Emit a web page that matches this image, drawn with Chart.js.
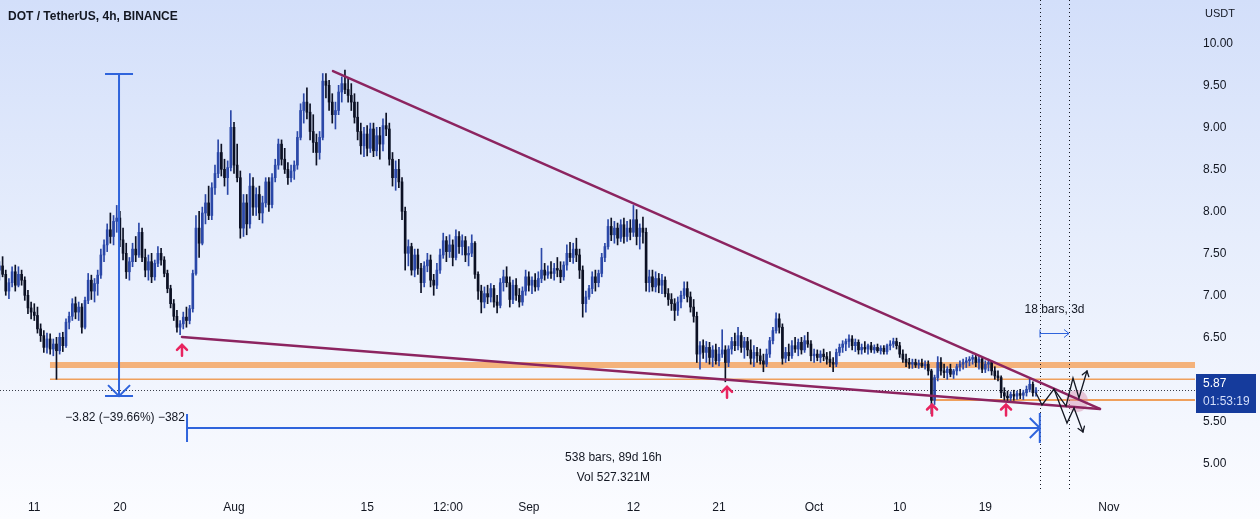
<!DOCTYPE html>
<html>
<head>
<meta charset="utf-8">
<script src="https://cdn.jsdelivr.net/npm/chart.js@4/dist/chart.umd.min.js"></script>
<style>
html,body{margin:0;padding:0;}
#wrap{position:relative;width:1260px;height:519px;background:linear-gradient(to bottom,#d3dffa 0%,#e6edfc 45%,#fbfcff 100%);}
canvas{display:block;}
</style>
</head>
<body>
<div id="wrap"><canvas id="c" width="1260" height="519"></canvas></div>
<script>
// ---- data: DOT/USDT, 8h bars (first bar Jul 7 08:00, day 0 = Aug 1) ----
const firstBarDay = -24.667;
const barSpan = 1/3;
const opens = [
7.30,7.35,7.25,7.05,7.15,7.28,7.12,7.25,7.18,7.00,
6.85,6.80,6.76,6.60,6.52,6.38,6.48,6.36,6.42,6.34,
6.50,6.40,6.68,6.75,6.90,6.80,6.86,6.62,6.94,7.18,
7.05,7.14,7.24,7.48,7.60,7.78,7.70,7.88,7.92,7.66,
7.50,7.28,7.40,7.55,7.48,7.75,7.45,7.30,7.40,7.22,
7.38,7.50,7.42,7.26,7.08,6.90,6.75,6.62,6.66,6.74,
6.70,6.84,7.26,7.80,7.62,7.98,8.10,7.95,8.28,8.45,
8.70,8.50,8.40,8.52,9.00,8.55,8.40,7.80,8.10,7.85,
8.30,8.05,8.20,7.98,8.10,8.35,8.08,8.40,8.55,8.80,
8.62,8.50,8.40,8.48,8.55,8.88,9.20,9.30,9.18,8.95,
8.82,8.70,8.88,9.55,9.50,9.30,9.15,9.20,9.42,9.52,
9.45,9.38,9.30,9.12,8.95,8.78,8.92,8.75,8.98,8.72,
8.90,8.80,9.02,8.98,8.62,8.40,8.50,8.35,8.00,7.50,
7.58,7.30,7.48,7.32,7.15,7.35,7.42,7.18,7.12,7.30,
7.48,7.65,7.52,7.60,7.45,7.70,7.58,7.65,7.48,7.50,
7.62,7.25,7.05,6.92,7.02,6.98,7.08,6.92,6.88,7.15,
7.22,7.15,6.95,7.12,7.00,6.92,7.05,7.22,7.12,7.18,
7.10,7.20,7.30,7.24,7.28,7.26,7.32,7.30,7.22,7.36,
7.50,7.45,7.55,7.48,7.30,6.90,6.98,7.08,7.22,7.15,
7.26,7.45,7.58,7.82,7.72,7.80,7.68,7.84,7.70,7.80,
7.75,7.90,7.70,7.80,7.75,7.15,7.22,7.10,7.20,7.12,
7.18,7.02,6.95,6.90,6.82,6.92,7.00,7.08,6.98,6.86,
6.75,6.30,6.40,6.32,6.38,6.26,6.35,6.22,6.30,6.35,
6.20,6.36,6.45,6.40,6.52,6.38,6.45,6.35,6.25,6.32,
6.28,6.22,6.18,6.30,6.46,6.58,6.72,6.62,6.25,6.32,
6.28,6.40,6.36,6.44,6.35,6.46,6.42,6.28,6.30,6.26,
6.30,6.27,6.24,6.20,6.18,6.32,6.38,6.42,6.45,6.48,
6.40,6.44,6.35,6.38,6.36,6.40,6.35,6.38,6.34,6.37,
6.33,6.40,6.42,6.45,6.40,6.30,6.24,6.20,6.18,6.20,
6.17,6.19,6.16,6.18,6.10,5.75,6.02,6.20,6.10,6.08,
6.12,6.06,6.10,6.15,6.18,6.20,6.22,6.24,6.26,6.20,
6.24,6.12,6.18,6.20,6.10,6.04,6.02,5.84,5.80,5.78,
5.82,5.80,5.83,5.81,5.84,5.88,5.94,5.84];
const highs = [
7.40,7.46,7.30,7.20,7.34,7.36,7.34,7.30,7.22,7.06,
6.92,6.90,6.86,6.66,6.58,6.55,6.54,6.48,6.50,6.55,
6.56,6.72,6.80,6.96,6.98,6.92,6.90,6.98,7.26,7.24,
7.20,7.30,7.55,7.66,7.85,7.98,7.95,8.07,8.00,7.80,
7.62,7.45,7.62,7.70,7.86,7.80,7.55,7.48,7.50,7.42,
7.58,7.56,7.46,7.30,7.12,6.95,6.82,6.70,6.80,6.86,
6.88,7.30,7.95,8.00,8.05,8.20,8.30,8.34,8.55,8.85,
8.80,8.62,8.60,9.20,9.06,8.80,8.48,8.20,8.20,8.45,
8.40,8.28,8.30,8.18,8.40,8.40,8.45,8.62,8.86,8.85,
8.75,8.58,8.55,8.60,8.95,9.28,9.40,9.47,9.28,9.15,
8.92,8.95,9.64,9.64,9.56,9.40,9.30,9.50,9.60,9.68,
9.58,9.52,9.40,9.30,9.05,9.00,9.02,9.05,9.05,9.00,
9.00,9.10,9.17,9.05,8.70,8.60,8.62,8.40,8.05,7.66,
7.62,7.55,7.55,7.38,7.40,7.50,7.48,7.25,7.38,7.55,
7.74,7.70,7.72,7.66,7.78,7.76,7.72,7.70,7.58,7.72,
7.64,7.28,7.12,7.10,7.12,7.14,7.12,7.00,7.20,7.30,
7.34,7.22,7.18,7.20,7.08,7.10,7.30,7.28,7.22,7.26,
7.28,7.56,7.38,7.35,7.40,7.38,7.45,7.40,7.40,7.60,
7.63,7.62,7.68,7.55,7.35,7.05,7.12,7.28,7.30,7.30,
7.50,7.62,7.90,7.92,7.88,7.86,7.90,7.92,7.88,7.90,
8.07,8.02,7.85,7.93,7.80,7.30,7.30,7.28,7.26,7.25,
7.22,7.08,7.02,6.96,6.98,7.05,7.16,7.16,7.04,6.95,
6.80,6.45,6.47,6.45,6.44,6.40,6.42,6.38,6.59,6.40,
6.40,6.50,6.55,6.62,6.56,6.50,6.50,6.47,6.40,6.38,
6.36,6.30,6.36,6.50,6.62,6.79,6.78,6.66,6.38,6.42,
6.46,6.50,6.48,6.50,6.52,6.56,6.46,6.36,6.35,6.34,
6.36,6.32,6.33,6.26,6.36,6.42,6.46,6.48,6.53,6.52,
6.48,6.47,6.42,6.45,6.42,6.44,6.41,6.42,6.40,6.40,
6.42,6.46,6.49,6.49,6.44,6.35,6.30,6.25,6.24,6.24,
6.23,6.24,6.22,6.22,6.12,6.05,6.27,6.26,6.18,6.15,
6.18,6.12,6.18,6.22,6.24,6.26,6.27,6.29,6.29,6.28,
6.27,6.22,6.24,6.22,6.15,6.10,6.04,5.90,5.86,5.85,
5.87,5.86,5.88,5.87,5.92,6.00,5.97,5.90];
const lows = [
7.18,7.22,7.00,6.96,7.10,7.05,7.10,7.12,6.94,6.78,
6.72,6.70,6.55,6.45,6.32,6.31,6.30,6.28,6.00,6.30,
6.33,6.38,6.60,6.70,6.72,6.70,6.55,6.60,6.90,6.95,
6.92,7.00,7.20,7.40,7.52,7.62,7.60,7.75,7.58,7.42,
7.20,7.18,7.34,7.40,7.45,7.40,7.22,7.18,7.15,7.18,
7.34,7.36,7.22,7.03,6.85,6.70,6.56,6.53,6.60,6.62,
6.66,6.80,7.24,7.45,7.60,7.85,7.90,7.90,8.20,8.40,
8.42,8.30,8.20,8.48,8.45,8.35,7.68,7.70,7.72,7.80,
7.95,7.95,7.90,7.86,8.05,8.00,8.04,8.35,8.50,8.55,
8.45,8.32,8.35,8.38,8.50,8.85,9.05,9.10,8.85,8.70,
8.55,8.62,8.85,9.35,9.20,9.05,8.98,9.15,9.30,9.40,
9.30,9.20,9.05,8.85,8.68,8.65,8.66,8.70,8.65,8.66,
8.62,8.72,8.90,8.55,8.30,8.25,8.28,7.90,7.30,7.35,
7.24,7.22,7.25,7.03,7.10,7.28,7.10,7.00,7.08,7.26,
7.44,7.40,7.45,7.35,7.42,7.50,7.48,7.40,7.35,7.46,
7.20,6.95,6.79,6.85,6.90,6.92,6.86,6.79,6.85,7.05,
7.10,6.86,6.90,6.94,6.86,6.88,7.00,7.05,7.02,7.05,
7.06,7.15,7.18,7.20,7.20,7.18,7.22,7.15,7.18,7.30,
7.40,7.38,7.40,7.20,6.74,6.80,6.95,7.02,7.05,7.10,
7.22,7.40,7.55,7.65,7.62,7.60,7.64,7.62,7.64,7.66,
7.70,7.60,7.55,7.62,7.05,7.04,7.05,7.04,7.03,7.02,
6.98,6.88,6.82,6.70,6.76,6.85,6.96,6.92,6.80,6.68,
6.20,6.12,6.25,6.20,6.18,6.15,6.18,6.16,6.26,5.97,
6.15,6.30,6.34,6.35,6.32,6.25,6.28,6.18,6.15,6.20,
6.18,6.09,6.15,6.26,6.42,6.55,6.55,6.18,6.20,6.22,
6.25,6.32,6.28,6.30,6.32,6.38,6.22,6.20,6.22,6.20,
6.22,6.18,6.15,6.09,6.15,6.28,6.32,6.34,6.38,6.35,
6.33,6.30,6.30,6.32,6.30,6.32,6.31,6.32,6.30,6.30,
6.30,6.35,6.38,6.36,6.26,6.20,6.15,6.13,6.13,6.14,
6.13,6.14,6.12,6.05,5.59,5.70,5.98,6.05,6.02,6.00,
6.03,6.01,6.05,6.10,6.12,6.14,6.16,6.18,6.15,6.12,
6.08,6.08,6.10,6.05,6.00,5.98,5.78,5.74,5.73,5.74,
5.75,5.76,5.77,5.76,5.80,5.85,5.80,5.80];
const closes = [
7.35,7.25,7.05,7.15,7.28,7.12,7.25,7.18,7.00,6.85,
6.80,6.76,6.60,6.52,6.38,6.48,6.36,6.42,6.34,6.50,
6.40,6.68,6.75,6.90,6.80,6.86,6.62,6.94,7.18,7.05,
7.14,7.24,7.48,7.60,7.78,7.70,7.88,7.92,7.66,7.50,
7.28,7.40,7.55,7.48,7.75,7.45,7.30,7.40,7.22,7.38,
7.50,7.42,7.26,7.08,6.90,6.75,6.62,6.66,6.74,6.70,
6.84,7.26,7.80,7.62,7.98,8.10,7.95,8.28,8.45,8.70,
8.50,8.40,8.52,9.00,8.55,8.40,7.80,8.10,7.85,8.30,
8.05,8.20,7.98,8.10,8.35,8.08,8.40,8.55,8.80,8.62,
8.50,8.40,8.48,8.55,8.88,9.20,9.30,9.18,8.95,8.82,
8.70,8.88,9.55,9.50,9.30,9.15,9.20,9.42,9.52,9.45,
9.38,9.30,9.12,8.95,8.78,8.92,8.75,8.98,8.72,8.90,
8.80,9.02,8.98,8.62,8.40,8.50,8.35,8.00,7.50,7.58,
7.30,7.48,7.32,7.15,7.35,7.42,7.18,7.12,7.30,7.48,
7.65,7.52,7.60,7.45,7.70,7.58,7.65,7.48,7.50,7.62,
7.25,7.05,6.92,7.02,6.98,7.08,6.92,6.88,7.15,7.22,
7.15,6.95,7.12,7.00,6.92,7.05,7.22,7.12,7.18,7.10,
7.20,7.30,7.24,7.28,7.26,7.32,7.30,7.22,7.36,7.50,
7.45,7.55,7.48,7.30,6.90,6.98,7.08,7.22,7.15,7.26,
7.45,7.58,7.82,7.72,7.80,7.68,7.84,7.70,7.80,7.75,
7.90,7.70,7.80,7.75,7.15,7.22,7.10,7.20,7.12,7.18,
7.02,6.95,6.90,6.82,6.92,7.00,7.08,6.98,6.86,6.75,
6.30,6.40,6.32,6.38,6.26,6.35,6.22,6.30,6.35,6.20,
6.36,6.45,6.40,6.52,6.38,6.45,6.35,6.25,6.32,6.28,
6.22,6.18,6.30,6.46,6.58,6.72,6.62,6.25,6.32,6.28,
6.40,6.36,6.44,6.35,6.46,6.42,6.28,6.30,6.26,6.30,
6.27,6.24,6.20,6.18,6.32,6.38,6.42,6.45,6.48,6.40,
6.44,6.35,6.38,6.36,6.40,6.35,6.38,6.34,6.37,6.33,
6.40,6.42,6.45,6.40,6.30,6.24,6.20,6.18,6.20,6.17,
6.19,6.16,6.18,6.10,5.75,6.02,6.20,6.10,6.08,6.12,
6.06,6.10,6.15,6.18,6.20,6.22,6.24,6.26,6.20,6.24,
6.12,6.18,6.20,6.10,6.04,6.02,5.84,5.80,5.78,5.82,
5.80,5.83,5.81,5.84,5.88,5.94,5.84,5.87];

// time-axis ticks (days from Aug 1) and labels
const timeTicks  = [-21, -12, 0, 14, 22.5, 31, 42, 51, 61, 70, 79, 92];
const timeLabels = ['11','20','Aug','15','12:00','Sep','12','21','Oct','10','19','Nov'];
// price-axis ticks
const priceTicks = [5.0,5.5,6.0,6.5,7.0,7.5,8.0,8.5,9.0,9.5,10.0];

// drawings (time in days from Aug 1, price in USDT)
const hLevelBand = 6.17, hLevel1 = 6.00, hLevel2 = 5.754, levelsFrom = -19.35, level2From = 73.4;
const upperTrend = [[10.41, 9.67],[91.06, 5.647]];
const lowerTrend = [[-5.47, 6.504],[91.06, 5.647]];
const priceRange = {day:-12.09, from:9.635, to:5.80, label:'\u22123.82 (\u221239.66%) \u2212382'};
const dateRange  = {from:-4.94, to:84.73, price:5.42, label1:'538 bars, 89d 16h', label2:'Vol 527.321M'};
const smallRange = {from:84.75, to:87.8, price:6.55, label:'18 bars, 3d'};
const markerUps  = [[-5.47,6.41],[51.84,5.91],[73.40,5.70],[81.18,5.70]];
const vLines     = [84.75, 87.8];
const zigUp   = [[84.33,5.837],[84.96,5.694],[86.22,5.884],[87.49,5.682],[88.22,6.015],[88.85,5.777],[89.69,6.099]];
const zigDown = [[86.22,5.884],[87.59,5.480],[88.33,5.659],[89.27,5.373]];
const targetCircle = [88.64, 5.742];
const lastPrice = closes[closes.length-1];
const countdown = '01:53:19';

const FONT = "'Liberation Sans', Arial, sans-serif";
const upColor = '#2b48a8', downColor = '#0c1124';
const barDay = i => firstBarDay + i*barSpan;
const wickData = highs.map((h,i)=>({x:barDay(i), y:[lows[i], h]}));
const bodyData = opens.map((o,i)=>({x:barDay(i), y:[Math.min(o,closes[i]), Math.max(o,closes[i])]}));
const colorOf = i => closes[i] >= opens[i] ? upColor : downColor;

const annot = {
  id:'annot',
  beforeDatasetsDraw(chart){
    const {ctx, chartArea:a, scales:{x, y}} = chart;
    ctx.save();
    ctx.beginPath(); ctx.rect(a.left, a.top, a.right-a.left, a.bottom-a.top); ctx.clip();
    // orange levels
    ctx.strokeStyle = 'rgba(245,166,100,0.85)'; ctx.lineWidth = 6;
    ctx.beginPath(); ctx.moveTo(x.getPixelForValue(levelsFrom), y.getPixelForValue(hLevelBand)); ctx.lineTo(a.right, y.getPixelForValue(hLevelBand)); ctx.stroke();
    ctx.strokeStyle = '#efa05c'; ctx.lineWidth = 1.5;
    ctx.beginPath(); ctx.moveTo(x.getPixelForValue(levelsFrom), y.getPixelForValue(hLevel1)); ctx.lineTo(a.right, y.getPixelForValue(hLevel1)); ctx.stroke();
    ctx.lineWidth = 2;
    ctx.beginPath(); ctx.moveTo(x.getPixelForValue(level2From), y.getPixelForValue(hLevel2)); ctx.lineTo(a.right, y.getPixelForValue(hLevel2)); ctx.stroke();
    // last price dotted
    ctx.strokeStyle = '#3a3e4a'; ctx.lineWidth = 1; ctx.setLineDash([1,2]);
    const yl = Math.round(y.getPixelForValue(lastPrice))+0.5;
    ctx.beginPath(); ctx.moveTo(a.left, yl); ctx.lineTo(a.right, yl); ctx.stroke();
    // vertical dotted
    ctx.setLineDash([1,3]); ctx.strokeStyle = '#131722';
    vLines.forEach(d=>{ const xx = Math.round(x.getPixelForValue(d))+0.5; ctx.beginPath(); ctx.moveTo(xx, a.top); ctx.lineTo(xx, a.bottom); ctx.stroke(); });
    ctx.setLineDash([]);
    ctx.restore();
  },
  afterDatasetsDraw(chart){
    const {ctx, chartArea:a, scales:{x, y}} = chart;
    const X = d => x.getPixelForValue(d), Y = p => y.getPixelForValue(p);
    ctx.save();
    ctx.beginPath(); ctx.rect(a.left, a.top, a.right-a.left, a.bottom-a.top); ctx.clip();
    ctx.lineCap = 'round';
    // circle
    ctx.fillStyle = 'rgba(214,140,170,0.45)';
    ctx.beginPath(); ctx.arc(X(targetCircle[0]), Y(targetCircle[1]), 11, 0, Math.PI*2); ctx.fill();
    // trendlines
    ctx.strokeStyle = '#8c2460'; ctx.lineWidth = 2.5;
    [upperTrend, lowerTrend].forEach(t=>{ ctx.beginPath(); ctx.moveTo(X(t[0][0]),Y(t[0][1])); ctx.lineTo(X(t[1][0]),Y(t[1][1])); ctx.stroke(); });
    // zigzags
    ctx.strokeStyle = '#131722'; ctx.lineWidth = 1.3;
    [zigUp, zigDown].forEach(z=>{
      ctx.beginPath(); z.forEach((p,i)=>{ i? ctx.lineTo(X(p[0]),Y(p[1])) : ctx.moveTo(X(p[0]),Y(p[1])); }); ctx.stroke();
      const p1 = z[z.length-2], p2 = z[z.length-1];
      const x1=X(p1[0]), y1=Y(p1[1]), x2=X(p2[0]), y2=Y(p2[1]);
      const ang = Math.atan2(y2-y1, x2-x1), L=6;
      ctx.beginPath();
      ctx.moveTo(x2 - L*Math.cos(ang-0.6), y2 - L*Math.sin(ang-0.6)); ctx.lineTo(x2,y2);
      ctx.lineTo(x2 - L*Math.cos(ang+0.6), y2 - L*Math.sin(ang+0.6)); ctx.stroke();
    });
    // blue measures
    ctx.strokeStyle = '#2f64dc'; ctx.lineWidth = 2; ctx.lineCap = 'butt';
    const px = X(priceRange.day), py1 = Y(priceRange.from), py2 = Y(priceRange.to);
    ctx.beginPath();
    ctx.moveTo(px, py1); ctx.lineTo(px, py2);
    ctx.moveTo(px-14, py1); ctx.lineTo(px+14, py1);
    ctx.moveTo(px-14, py2); ctx.lineTo(px+14, py2);
    ctx.moveTo(px-11, py2-11); ctx.lineTo(px, py2); ctx.lineTo(px+11, py2-11);
    ctx.stroke();
    const dx1 = X(dateRange.from), dx2 = X(dateRange.to), dy = Y(dateRange.price);
    ctx.beginPath();
    ctx.moveTo(dx1, dy); ctx.lineTo(dx2, dy);
    ctx.moveTo(dx1, dy-14); ctx.lineTo(dx1, dy+14);
    ctx.moveTo(dx2, dy-15); ctx.lineTo(dx2, dy+15);
    ctx.moveTo(dx2-10, dy-10); ctx.lineTo(dx2, dy); ctx.lineTo(dx2-10, dy+10);
    ctx.stroke();
    ctx.lineWidth = 1;
    const sx1 = X(smallRange.from), sx2 = X(smallRange.to), sy = Math.round(Y(smallRange.price))+0.5;
    ctx.beginPath();
    ctx.moveTo(sx1, sy); ctx.lineTo(sx2, sy);
    ctx.moveTo(sx1, sy-4); ctx.lineTo(sx1, sy+4);
    ctx.moveTo(sx2-5, sy-4); ctx.lineTo(sx2, sy); ctx.lineTo(sx2-5, sy+4);
    ctx.stroke();
    // pink up markers
    ctx.strokeStyle = '#e8245f'; ctx.lineWidth = 2.5; ctx.lineCap = 'round';
    markerUps.forEach(m=>{
      const mx = X(m[0]), my = Y(m[1]);
      ctx.beginPath(); ctx.moveTo(mx, my+1); ctx.lineTo(mx, my+11);
      ctx.moveTo(mx-5, my+5); ctx.lineTo(mx, my); ctx.lineTo(mx+5, my+5); ctx.stroke();
    });
    // texts
    ctx.fillStyle = '#131722'; ctx.font = '12px ' + FONT; ctx.textAlign = 'center'; ctx.textBaseline = 'middle';
    ctx.fillText(priceRange.label, px + 6, py2 + 22);
    ctx.fillText(dateRange.label1, (dx1+dx2)/2, dy + 30);
    ctx.fillText(dateRange.label2, (dx1+dx2)/2, dy + 50);
    ctx.fillText(smallRange.label, (sx1+sx2)/2, sy - 24);
    ctx.restore();
  },
  afterDraw(chart){
    const {ctx, chartArea:a, scales:{y}} = chart;
    ctx.save();
    ctx.fillStyle = '#131722'; ctx.textBaseline = 'middle'; ctx.textAlign = 'left';
    ctx.font = 'bold 12px ' + FONT;
    ctx.fillText('DOT / TetherUS, 4h, BINANCE', 8, 17);
    ctx.font = '11px ' + FONT;
    ctx.fillText('USDT', a.right + 10, 14);
    const yl = Math.round(y.getPixelForValue(lastPrice));
    ctx.fillStyle = '#153b9c';
    ctx.fillRect(a.right + 1, yl - 16, 60, 39);
    ctx.fillStyle = '#ffffff'; ctx.font = '12px ' + FONT;
    ctx.fillText(lastPrice.toFixed(2), a.right + 8, yl - 6);
    ctx.fillStyle = '#d4defa';
    ctx.fillText(countdown, a.right + 8, yl + 12);
    ctx.restore();
  }
};

const noPad = s => { s.paddingTop = 0; s.paddingBottom = 0; s.paddingLeft = 0; s.paddingRight = 0; };

new Chart(document.getElementById('c'), {
  type:'bar',
  data:{datasets:[
    {data:wickData, barThickness:1, grouped:false, backgroundColor:c=>colorOf(c.dataIndex), borderWidth:0},
    {data:bodyData, barThickness:2, grouped:false, minBarLength:1, backgroundColor:c=>colorOf(c.dataIndex), borderWidth:0}
  ]},
  options:{
    responsive:false, animation:false, events:[],
    layout:{padding:0},
    plugins:{legend:{display:false}, tooltip:{enabled:false}},
    scales:{
      x:{type:'linear', min:-24.606, max:101.05, offset:false,
         grid:{display:false, drawTicks:false}, border:{display:false},
         afterBuildTicks:s=>{ s.ticks = timeTicks.map(v=>({value:v})); },
         ticks:{autoSkip:false, maxRotation:0, padding:8, color:'#131722', font:{family:FONT, size:12},
                callback:v=>timeLabels[timeTicks.indexOf(v)]},
         afterFit:s=>{ s.height = 27; noPad(s); }},
      y:{type:'linear', position:'right', min:4.6583, max:10.5155, beginAtZero:false,
         grid:{display:false, drawTicks:false}, border:{display:false},
         afterBuildTicks:s=>{ s.ticks = priceTicks.map(v=>({value:v})); },
         ticks:{padding:8, color:'#131722', font:{family:FONT, size:12}, callback:v=>v.toFixed(2)},
         afterFit:s=>{ s.width = 65; noPad(s); }}
    }
  },
  plugins:[annot]
});
</script>
</body>
</html>
